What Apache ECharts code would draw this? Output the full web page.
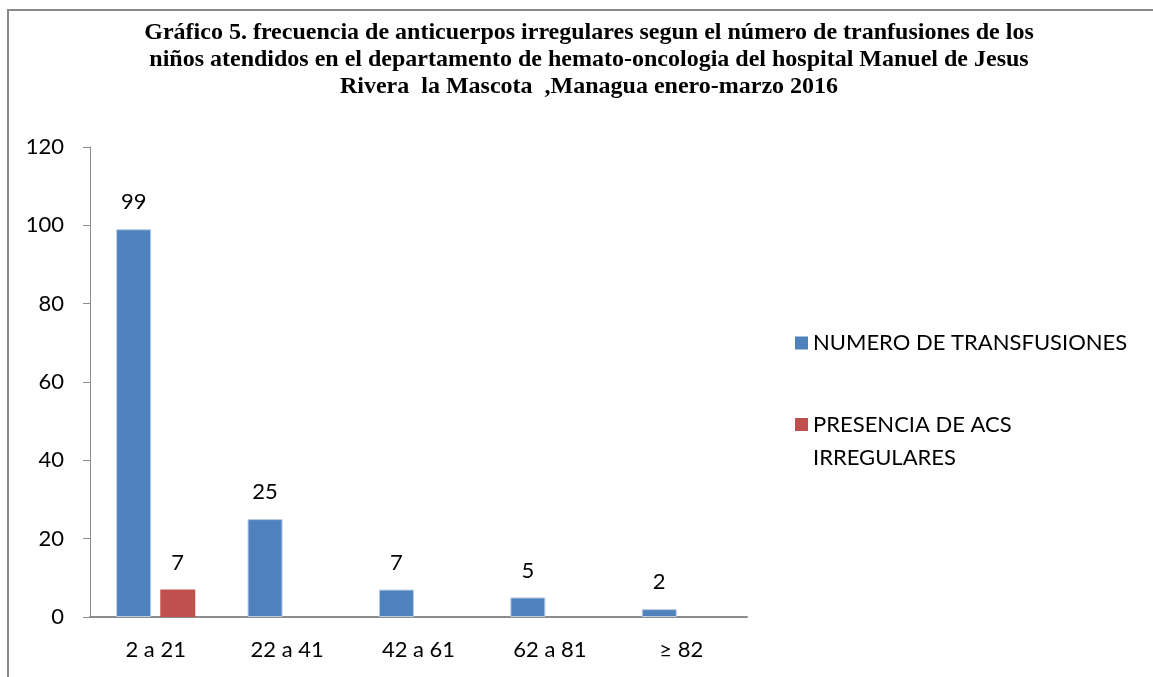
<!DOCTYPE html>
<html>
<head>
<meta charset="utf-8">
<script src="https://cdn.jsdelivr.net/npm/echarts@6/dist/echarts.min.js"></script>
<style>
  html, body { margin: 0; padding: 0; background: #fff; }
  #main { width: 1153px; height: 677px; }
  .frame { position: absolute; left: 7px; top: 9px; width: 1200px; height: 700px;
           border-left: 2px solid #8a8a8a; border-top: 2px solid #8a8a8a; pointer-events: none; }
</style>
</head>
<body>
<div id="main"></div>
<div class="frame"></div>
<script>
// datos del grafico
const categorias = ['2 a 21', '22 a 41', '42 a 61', '62 a 81', '≥ 82']
const transfusiones = [99, 25, 7, 5, 2]
const acsIrregulares = [7, null, null, null, null]
const nombreSerie1 = 'NUMERO DE TRANSFUSIONES'
const nombreSerie2 = 'PRESENCIA DE ACS\nIRREGULARES'
const titulo = 'Gráfico 5. frecuencia de anticuerpos irregulares segun el número de tranfusiones de los\n' +
  'niños atendidos en el departamento de hemato-oncologia del hospital Manuel de Jesus\n' +
  'Rivera  la Mascota  ,Managua enero-marzo 2016'

const fuente = 'Lato'
const tamano = 22
const chart = echarts.init(document.getElementById('main'))

const option = {
  animation: false,
  title: {
    text: titulo,
    left: 584,
    textAlign: 'center',
    top: 14,
    textStyle: {
      fontFamily: 'Liberation Serif',
      fontWeight: 'bold',
      fontSize: 24,
      lineHeight: 27,
      color: '#000'
    }
  },
  legend: [
    {
      data: [nombreSerie1],
      left: 790,
      top: 327,
      itemWidth: 13,
      itemHeight: 13,
      icon: 'rect',
      itemStyle: { borderWidth: 0 },
      textStyle: { fontFamily: fuente, fontSize: tamano, color: '#000' }
    },
    {
      data: [nombreSerie2],
      left: 790,
      top: 370,
      itemWidth: 13,
      itemHeight: 13,
      icon: 'rect',
      itemStyle: { borderWidth: 0 },
      // linea vacia arriba para que el cuadro quede junto a la primera linea
      formatter: function (n) { return ' \n' + n },
      textStyle: { fontFamily: fuente, fontSize: tamano, lineHeight: 33, color: '#000' }
    }
  ],
  grid: {
    left: 90,
    right: 406,
    top: 147,
    bottom: 60
  },
  xAxis: {
    type: 'category',
    data: categorias,
    axisLine: { lineStyle: { color: '#8c8c8c', width: 2 } },
    axisTick: { show: false },
    axisLabel: { fontFamily: fuente, fontSize: tamano, color: '#000', margin: 22 }
  },
  yAxis: {
    type: 'value',
    min: 0,
    max: 120,
    interval: 20,
    axisLine: { show: true, lineStyle: { color: '#8c8c8c', width: 1 } },
    axisTick: { show: true, inside: false, length: 7, lineStyle: { color: '#8c8c8c' } },
    splitLine: { show: false },
    axisLabel: { fontFamily: fuente, fontSize: tamano, color: '#000', margin: 26 }
  },
  series: [
    {
      name: nombreSerie1,
      type: 'bar',
      data: transfusiones,
      barWidth: 35,
      barGap: '26%',
      itemStyle: { color: '#4F81BD', borderColor: '#b9cde5', borderWidth: 1 },
      label: { show: true, position: 'top', distance: 16, fontFamily: fuente, fontSize: tamano, color: '#000' }
    },
    {
      name: nombreSerie2,
      type: 'bar',
      data: acsIrregulares,
      barWidth: 35,
      itemStyle: { color: '#C0504D' },
      label: { show: true, position: 'top', distance: 16, fontFamily: fuente, fontSize: tamano, color: '#000' }
    }
  ]
}
chart.setOption(option)
</script>
</body>
</html>
